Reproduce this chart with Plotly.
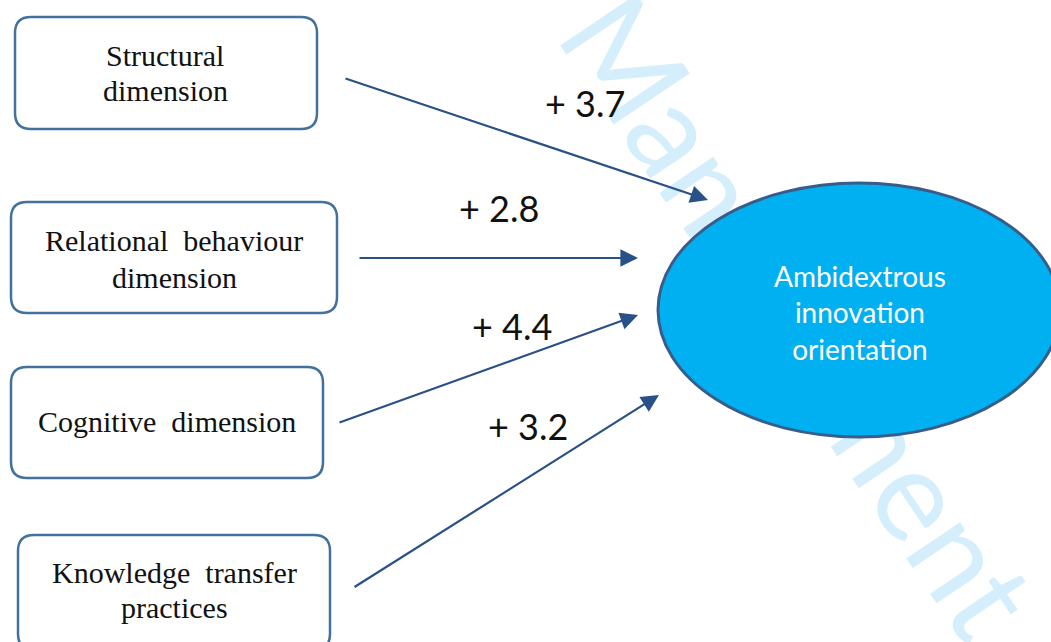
import math
import plotly.graph_objects as go

# ---------------- data ----------------
constructs = ["Structural dimension", "Relational behaviour dimension",
              "Cognitive dimension", "Knowledge transfer practices"]
construct_lines = [["Structural", "dimension"],
                   ["Relational\u00a0 behaviour", "dimension"],
                   ["Cognitive\u00a0 dimension"],
                   ["Knowledge\u00a0 transfer", "practices"]]
effects = [3.7, 2.8, 4.4, 3.2]
outcome_lines = ["Ambidextrous", "innovation", "orientation"]
watermark_words = ["Knowledge", "Management", "Research"]

# ---------------- layout (pixel positions) ----------------
W, H = 1051, 642
box_rects = [(15, 17, 317, 129), (11, 202, 337, 313), (11, 367, 323, 478), (18, 535, 330, 650)]
box_text_x = [165, 174, 167, 174]
box_text_y = [[55, 90], [240, 277], [421], [572, 607]]
arrow_tail = [(344, 78), (358, 258), (338, 423), (353, 588)]
arrow_head = [(708, 200), (638, 258), (638, 315), (659, 395)]
label_pos = [(585, 103), (499, 208), (512, 326), (528, 426)]
ell_c, ell_r = (859, 310), (201, 127)

BOX_LINE = "#41719C"
ARROW = "#2A5088"
ELL_FILL = "#00B0F0"
ELL_LINE = "#385D8A"
WM_COLOR = "#D4EFFB"

fig = go.Figure()

# watermark (drawn as bar text so that shapes can cover it)
wm_size = 128
ang = 56
u = (math.cos(math.radians(ang)), math.sin(math.radians(ang)))
wm_center = (801, 314)
wm_widths = [633, 742, 511]
gap = 25
offsets = [-(wm_widths[1] / 2 + gap + wm_widths[0] / 2), 0,
           wm_widths[1] / 2 + gap + wm_widths[2] / 2]
for word, off in zip(watermark_words, offsets):
    cx = wm_center[0] + u[0] * off
    cy = wm_center[1] + u[1] * off
    fig.add_trace(go.Bar(
        x=[cx], y=[20], base=[cy - 10], width=[20],
        text=[word], textposition="inside", insidetextanchor="middle",
        textangle=ang, constraintext="none", cliponaxis=False,
        textfont=dict(family="Lato", size=wm_size, color=WM_COLOR),
        marker=dict(color="rgba(0,0,0,0)", line=dict(width=0)),
        hoverinfo="skip", showlegend=False))

shapes = []
r = 16
for (x0, y0, x1, y1) in box_rects:
    path = (f"M {x0 + r},{y0} L {x1 - r},{y0} Q {x1},{y0} {x1},{y0 + r} "
            f"L {x1},{y1 - r} Q {x1},{y1} {x1 - r},{y1} "
            f"L {x0 + r},{y1} Q {x0},{y1} {x0},{y1 - r} "
            f"L {x0},{y0 + r} Q {x0},{y0} {x0 + r},{y0} Z")
    shapes.append(dict(type="path", path=path, xref="x", yref="y",
                       line=dict(color=BOX_LINE, width=2.5),
                       fillcolor="white", layer="above"))

shapes.append(dict(type="circle", xref="x", yref="y",
                   x0=ell_c[0] - ell_r[0], x1=ell_c[0] + ell_r[0],
                   y0=ell_c[1] - ell_r[1], y1=ell_c[1] + ell_r[1],
                   fillcolor=ELL_FILL, line=dict(color=ELL_LINE, width=3),
                   layer="above"))

annotations = []
for lines, tx, tys in zip(construct_lines, box_text_x, box_text_y):
    for line, ty in zip(lines, tys):
        annotations.append(dict(x=tx, y=ty, xref="x", yref="y", text=line,
                                showarrow=False, xanchor="center", yanchor="middle",
                                font=dict(family="Liberation Serif", size=30, color="#111111")))

for (tx, ty), (hx, hy) in zip(arrow_tail, arrow_head):
    annotations.append(dict(x=hx, y=hy, ax=tx, ay=ty, xref="x", yref="y",
                            axref="x", ayref="y", text="", showarrow=True,
                            arrowhead=2, arrowsize=1.6, arrowwidth=2.2,
                            arrowcolor=ARROW, standoff=0, startstandoff=0))

for v, (lx, ly) in zip(effects, label_pos):
    annotations.append(dict(x=lx, y=ly, xref="x", yref="y", text=f"+ {v:.1f}",
                            showarrow=False, xanchor="center", yanchor="middle",
                            font=dict(family="Lato", size=36, color="#111111")))

annotations.append(dict(x=860, y=312, xref="x", yref="y",
                        text="<br>".join(outcome_lines), showarrow=False,
                        xanchor="center", yanchor="middle",
                        font=dict(family="Lato", size=28, color="white")))

fig.update_layout(
    width=W, height=H, margin=dict(l=0, r=0, t=0, b=0),
    paper_bgcolor="white", plot_bgcolor="white",
    xaxis=dict(range=[0, W], visible=False, fixedrange=True),
    yaxis=dict(range=[H, 0], visible=False, fixedrange=True),
    shapes=shapes, annotations=annotations, showlegend=False,
    bargap=0,
)

fig.write_html("out.html", config={"displayModeBar": False},
               post_script="document.body.style.margin='0';document.body.style.overflow='hidden';")
